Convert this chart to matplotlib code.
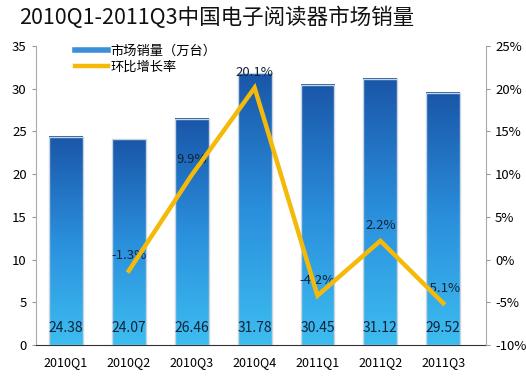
import numpy as np
import matplotlib
matplotlib.use("Agg")
import matplotlib.pyplot as plt
from matplotlib.colors import LinearSegmentedColormap
from matplotlib.lines import Line2D

plt.rcParams['font.family'] = ['Noto Sans CJK SC', 'DejaVu Sans']

quarters = ["2010Q1", "2010Q2", "2010Q3", "2010Q4", "2011Q1", "2011Q2", "2011Q3"]
sales = [24.38, 24.07, 26.46, 31.78, 30.45, 31.12, 29.52]
growth = [None, -1.3, 9.9, 20.1, -4.2, 2.2, -5.1]
growth_labels = ["", "-1.3%", "9.9%", "20.1%", "-4.2%", "2.2%", "-5.1%"]

fig = plt.figure(figsize=(5.26, 3.76), dpi=100)
ax = fig.add_axes([0.068, 0.082, 0.856, 0.796])

x = np.arange(len(quarters))
width = 0.54
cmap = LinearSegmentedColormap.from_list("blu", ["#3dbdf0", "#2a8fdc", "#1a56a8"])
grad = np.linspace(0, 1, 256).reshape(-1, 1)

# bars with gradient fill
bars = ax.bar(x, sales, width, color="none", edgecolor="#c8d4e0", linewidth=1, zorder=3)
for b in bars:
    x0, y0 = b.get_x(), b.get_y()
    ax.imshow(grad, cmap=cmap, origin="lower", aspect="auto",
              extent=[x0, x0 + b.get_width(), y0, y0 + b.get_height()], zorder=2)

for xi, v in zip(x, sales):
    ax.text(xi, 1.2, f"{v:.2f}", ha="center", va="bottom", fontsize=10,
            color="#10233a", zorder=6)

ax.set_xlim(-0.48, 6.68)
ax.set_ylim(0, 35)
ax.set_yticks(range(0, 36, 5))
ax.set_xticks(x)
ax.set_xticklabels(quarters, fontsize=9)
ax.tick_params(axis="y", labelsize=9.5, length=3, color="#999999")
ax.tick_params(axis="x", length=0, pad=8)
for s in ["top", "right"]:
    ax.spines[s].set_visible(False)
ax.spines["left"].set_color("#aaaaaa")
ax.spines["bottom"].set_color("#333333")

# growth line on right axis
ax2 = ax.twinx()
gx = x[1:]
gy = growth[1:]
ax2.plot(gx, gy, color="#f5b90a", linewidth=3.2, solid_joinstyle="miter", zorder=5)
for xi, v, lab in zip(gx, gy, growth_labels[1:]):
    ax2.text(xi, v + 1.0, lab, ha="center", va="bottom", fontsize=9.5, color="#10233a")
ax2.set_ylim(-10, 25)
ax2.set_yticks(range(-10, 26, 5))
ax2.set_yticklabels([f"{t}%" for t in range(-10, 26, 5)])
ax2.tick_params(axis="y", labelsize=9.5, length=3, color="#999999")
for s in ["top", "left", "bottom"]:
    ax2.spines[s].set_visible(False)
ax2.spines["right"].set_color("#aaaaaa")
ax2.set_xlim(-0.48, 6.68)

handles = [Line2D([0], [0], color="#3a8fd8", lw=4),
           Line2D([0], [0], color="#f5b90a", lw=3.2)]
ax2.legend(handles, ["市场销量（万台）", "环比增长率"], loc="upper left",
           bbox_to_anchor=(0.06, 1.045), frameon=False, fontsize=9.5,
           handlelength=2.5, handletextpad=0.2, labelspacing=0.25)

fig.text(0.036, 0.935, "2010Q1-2011Q3中国电子阅读器市场销量", fontsize=15.5, color="#111111")

fig.savefig("out.png", dpi=100)
